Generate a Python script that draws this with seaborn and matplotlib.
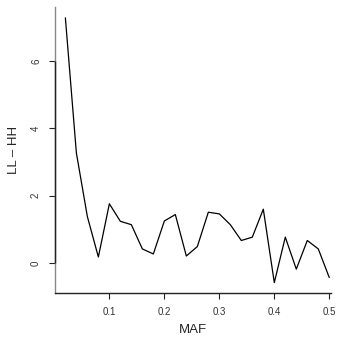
import numpy as np
import pandas as pd
import matplotlib
matplotlib.use("Agg")
import matplotlib.pyplot as plt
import seaborn as sns

# values
maf = [0.02, 0.04, 0.06, 0.08, 0.10, 0.12, 0.14, 0.16, 0.18, 0.20,
       0.22, 0.24, 0.26, 0.28, 0.30, 0.32, 0.34, 0.36, 0.38, 0.40,
       0.42, 0.44, 0.46, 0.48, 0.50]
ll_hh = [7.28, 3.27, 1.38, 0.18, 1.76, 1.24, 1.14, 0.42, 0.27, 1.25,
         1.44, 0.21, 0.49, 1.51, 1.46, 1.14, 0.67, 0.77, 1.60, -0.58,
         0.77, -0.18, 0.67, 0.42, -0.43]
x_ticks = [0.1, 0.2, 0.3, 0.4, 0.5]
y_ticks = [0, 2, 4, 6]

df = pd.DataFrame({"MAF": maf, "diff": ll_hh})

sns.set_style("white")
plt.rcParams['font.family'] = ['Liberation Sans', 'DejaVu Sans']

fig = plt.figure(figsize=(3.37, 3.38), dpi=100)
ax = fig.add_axes([0.163, 0.133, 0.819, 0.846])

sns.lineplot(data=df, x="MAF", y="diff", color="black", linewidth=0.9, ax=ax)

ax.set_xlim(0.001, 0.503)
ax.set_ylim(-0.89, 7.6)
ax.set_xticks(x_ticks)
ax.set_xticklabels(["0.1", "0.2", "0.3", "0.4", "0.5"])
ax.set_yticks(y_ticks)
ax.set_yticklabels([str(v) for v in y_ticks], rotation=90, va="center")

ax.spines["top"].set_visible(False)
ax.spines["right"].set_visible(False)
ax.spines["left"].set_color("#888888")
ax.spines["bottom"].set_color("#222222")
ax.spines["left"].set_linewidth(1.0)
ax.spines["bottom"].set_linewidth(1.0)
# darker axis line between the outer ticks, like R's axis()
ax.vlines(ax.get_xlim()[0], y_ticks[0], y_ticks[-1], color="#222222",
          linewidth=1.0, clip_on=False, zorder=5)

ax.tick_params(axis="both", direction="out", length=4, width=0.8,
               color="#222222", labelsize=7, labelcolor="#333333",
               left=True, bottom=True)
ax.tick_params(axis="x", pad=6)
ax.tick_params(axis="y", pad=6)

ax.set_xlabel("MAF", fontsize=9.5, labelpad=5)
ax.set_ylabel("LL – HH", fontsize=9.5, labelpad=8)

fig.savefig("out.png", dpi=100)
